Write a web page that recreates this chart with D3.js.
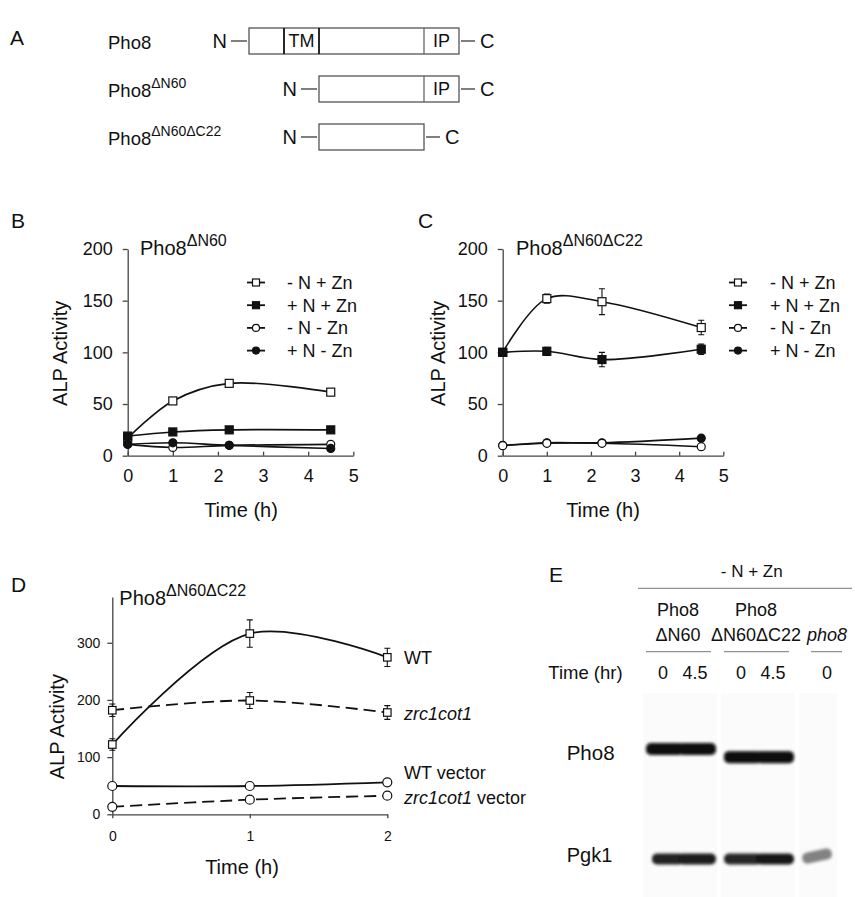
<!DOCTYPE html>
<html>
<head>
<meta charset="utf-8">
<script src="https://cdn.jsdelivr.net/npm/d3@7"></script>
<style>
  body { margin: 0; background: #fff; }
  svg text { font-family: Arial, "Liberation Sans", sans-serif; fill: #111; }
</style>
</head>
<body>
<svg id="fig" width="855" height="897"></svg>
<script>
// ---- panel A: constructs (diagram units, not to scale) ----
const constructNames = ["Pho8", "Pho8", "Pho8"];
const constructSup = ["", "ΔN60", "ΔN60ΔC22"];
const segmentBreaks = [[0, 1, 2, 5, 6], [2, 5, 6], [2, 5]];
const segmentLabels = [["", "TM", "", "IP"], ["", "IP"], [""]];

// ---- panels B and C ----
const timesBC = [0, 1, 2.25, 4.5];
const seriesBC = ["- N + Zn", "+ N + Zn", "- N - Zn", "+ N - Zn"];
const markersBC = ["square-open", "square", "circle-open", "circle"];
const valuesB = [[17, 53, 70, 61.5], [19, 23, 25, 25], [11, 8, 10, 11], [11, 12.5, 10, 7]];
const errorsB = [[0, 0, 0, 0], [0, 0, 0, 0], [0, 0, 0, 0], [0, 0, 0, 0]];
const valuesC = [[100, 152, 149, 124], [100, 101, 93, 103], [9.7, 12, 12, 8.7], [10, 12.5, 12.5, 17]];
const errorsC = [[3, 4.5, 12.5, 7], [3, 4, 7, 5], [0, 0, 0, 0], [0, 0, 0, 0]];
const xTicksBC = [0, 1, 2, 3, 4, 5];
const yTicksBC = [0, 50, 100, 150, 200];

// ---- panel D ----
const timesD = [0, 1, 2];
const seriesD = ["WT", "zrc1cot1", "WT vector", "zrc1cot1 vector"];
const markersD = ["square-open", "square-open", "circle-open", "circle-open"];
const dashedD = [false, true, false, true];
const valuesD = [[122, 316, 274.5], [182, 199, 178], [49.5, 49.5, 56], [13, 25.5, 32.5]];
const errorsD = [[10, 24, 16], [11, 14, 12], [0, 0, 0], [0, 0, 0]];
const xTicksD = [0, 1, 2];
const yTicksD = [0, 100, 200, 300];

// ---- panel E: western blot ----
const blotTop = ["Pho8", "Pho8", ""];
const blotBottom = ["ΔN60", "ΔN60ΔC22", "pho8"];
const laneTimes = ["0", "4.5", "0", "4.5", "0"];
const laneGroup = [0, 0, 1, 1, 2];
const pho8KDa = [56, 56, 55.1, 55.1, 55.1];
const pho8Signal = [1, 1, 1, 1, 0];
const pgk1KDa = [45, 45, 45, 45, 45.3];
const pgk1Signal = [0.9, 0.92, 0.88, 0.95, 0.5];

const svg = d3.select('#fig');
const ink = '#111';
const intFmt = d3.format('d');

function panelLetter(x, y, t) {
  svg.append('text').attr('x', x).attr('y', y).style('font-size', '21px').text(t);
}

function supText(g, x, y, base, sup, size, supSize, raise) {
  const t = g.append('text').attr('x', x).attr('y', y).style('font-size', size + 'px');
  t.append('tspan').text(base);
  if (sup) t.append('tspan').attr('dy', -raise).style('font-size', supSize + 'px').text(sup);
  return t;
}

function marker(g, type, cx, cy, s) {
  const open = type.endsWith('open');
  let m;
  if (type.startsWith('square')) {
    m = g.append('rect').attr('x', cx - s / 2).attr('y', cy - s / 2).attr('width', s).attr('height', s);
  } else {
    m = g.append('circle').attr('cx', cx).attr('cy', cy).attr('r', s / 2);
  }
  m.attr('fill', open ? '#fff' : ink).attr('stroke', ink).attr('stroke-width', 1.2);
}

function styleAxis(a, size) {
  a.style('font-size', size + 'px');
  a.selectAll('path, line').attr('stroke', '#444').attr('stroke-width', 1.3);
}

// ---------------- A ----------------
panelLetter(10, 45, 'A');
const gA = svg.append('g');
const xA = d3.scaleLinear().domain([0, 6]).range([249, 459]);
const yA = d3.scaleLinear().domain([0, 1]).range([28, 76]);
const boxH = 26;

constructNames.forEach((name, i) => {
  const top = yA(i), mid = top + boxH / 2;
  const br = segmentBreaks[i];
  const x0 = xA(br[0]), x1 = xA(br[br.length - 1]);
  supText(gA, 108, mid + 8, name, constructSup[i], 18.5, 14, 9);
  gA.append('text').attr('x', x0 - 22).attr('y', mid).attr('dy', '0.36em')
    .attr('text-anchor', 'end').style('font-size', '20px').text('N');
  gA.append('line').attr('x1', x0 - 18).attr('x2', x0 - 2).attr('y1', mid).attr('y2', mid)
    .attr('stroke', '#555').attr('stroke-width', 1.5);
  gA.append('rect').attr('x', x0).attr('y', top).attr('width', x1 - x0).attr('height', boxH)
    .attr('fill', 'none').attr('stroke', '#555').attr('stroke-width', 1.3);
  // dividers and domain names
  br.slice(1, -1).forEach((b, j) => {
    const dark = segmentLabels[i][j] === 'TM' || segmentLabels[i][j + 1] === 'TM';
    gA.append('line').attr('x1', xA(b)).attr('x2', xA(b)).attr('y1', top).attr('y2', top + boxH)
      .attr('stroke', dark ? '#111' : '#666').attr('stroke-width', dark ? 1.8 : 1.3);
  });
  segmentLabels[i].forEach((s, j) => {
    if (!s) return;
    gA.append('text').attr('x', (xA(br[j]) + xA(br[j + 1])) / 2).attr('y', mid).attr('dy', '0.36em')
      .attr('text-anchor', 'middle').style('font-size', '18px').text(s);
  });
  gA.append('line').attr('x1', x1 + 2).attr('x2', x1 + 16).attr('y1', mid).attr('y2', mid)
    .attr('stroke', '#555').attr('stroke-width', 1.5);
  gA.append('text').attr('x', x1 + 21).attr('y', mid).attr('dy', '0.36em')
    .style('font-size', '20px').text('C');
});

// ---------------- B and C ----------------
function timePanel(o) {
  const g = svg.append('g');
  const x = d3.scaleLinear().domain([0, 5]).range([o.x0, o.x1]);
  const y = d3.scaleLinear().domain([0, 200]).range([455.7, 249]);

  styleAxis(g.append('g').attr('transform', `translate(0,${y(0)})`)
    .call(d3.axisBottom(x).tickValues(xTicksBC).tickFormat(intFmt)
      .tickSize(-4).tickSizeOuter(0).tickPadding(14)), 18);
  styleAxis(g.append('g').attr('transform', `translate(${x(0)},0)`)
    .call(d3.axisLeft(y).tickValues(yTicksBC).tickFormat(intFmt)
      .tickSize(5).tickSizeOuter(0).tickPadding(10)), 18);

  g.append('text').attr('transform', `translate(${o.ylx},${(y(0) + y(200)) / 2 + 1}) rotate(-90)`)
    .attr('text-anchor', 'middle').attr('dy', '0.35em').style('font-size', '20px').text('ALP Activity');
  g.append('text').attr('x', o.tlx).attr('y', 510).attr('dy', '0.35em')
    .attr('text-anchor', 'middle').style('font-size', '20px').text('Time (h)');
  supText(g, o.titleX, 255, 'Pho8', o.sup, 20, 16, 9);

  const line = d3.line().x((d, i) => x(timesBC[i])).y(d => y(d))
    .curve(d3.curveCatmullRom.alpha(0.5));

  o.order.forEach(k => {
    g.append('path').datum(o.values[k]).attr('d', line)
      .attr('fill', 'none').attr('stroke', ink).attr('stroke-width', 1.6);
  });
  o.order.forEach(k => {
    o.values[k].forEach((v, i) => {
      const e = o.errors[k][i];
      if (e > 0) {
        const cx = x(timesBC[i]);
        g.append('path')
          .attr('d', `M${cx},${y(v - e)}V${y(v + e)}M${cx - 3},${y(v - e)}h6M${cx - 3},${y(v + e)}h6`)
          .attr('stroke', ink).attr('stroke-width', 1.1).attr('fill', 'none');
      }
    });
  });
  o.order.forEach(k => {
    o.values[k].forEach((v, i) => marker(g, markersBC[k], x(timesBC[i]), y(v), 8));
  });

  seriesBC.forEach((s, i) => {
    const ly = 282.5 + i * 22.7;
    g.append('line').attr('x1', o.lx - 9).attr('x2', o.lx + 9).attr('y1', ly).attr('y2', ly)
      .attr('stroke', ink).attr('stroke-width', 1.8);
    marker(g, markersBC[i], o.lx, ly, 7);
    g.append('text').attr('x', o.tx).attr('y', ly).attr('dy', '0.35em')
      .style('font-size', '18px').text(s);
  });
}

panelLetter(11, 228, 'B');
timePanel({ x0: 127.7, x1: 353.3, ylx: 60, tlx: 241, titleX: 140, sup: 'ΔN60',
  values: valuesB, errors: errorsB, order: [0, 2, 1, 3], lx: 256, tx: 287 });
panelLetter(418, 228, 'C');
timePanel({ x0: 502.7, x1: 723.3, ylx: 438, tlx: 603, titleX: 516, sup: 'ΔN60ΔC22',
  values: valuesC, errors: errorsC, order: [0, 1, 3, 2], lx: 738, tx: 770 });

// ---------------- D ----------------
panelLetter(11, 591.7, 'D');
const gD = svg.append('g');
const xD = d3.scaleLinear().domain([0, 2]).range([112.3, 387.3]);
const yD = d3.scaleLinear().domain([0, 380]).range([814.3, 597]);

styleAxis(gD.append('g').attr('transform', `translate(0,${yD(0)})`)
  .call(d3.axisBottom(xD).tickValues(xTicksD).tickFormat(intFmt)
    .tickSize(4).tickSizeOuter(0).tickPadding(13)), 14);
styleAxis(gD.append('g').attr('transform', `translate(${xD(0)},0)`)
  .call(d3.axisLeft(yD).tickValues(yTicksD).tickFormat(intFmt)
    .tickSize(5).tickSizeOuter(0).tickPadding(7)), 14);

gD.append('text').attr('transform', `translate(56.7,726.7) rotate(-90)`)
  .attr('text-anchor', 'middle').attr('dy', '0.35em').style('font-size', '20px').text('ALP Activity');
gD.append('text').attr('x', 242).attr('y', 866.7).attr('dy', '0.35em')
  .attr('text-anchor', 'middle').style('font-size', '20px').text('Time (h)');
supText(gD, 119.3, 605, 'Pho8', 'ΔN60ΔC22', 20, 16, 9);

const lineD = d3.line().x((d, i) => xD(timesD[i])).y(d => yD(d))
  .curve(d3.curveCatmullRom.alpha(0.5));

valuesD.forEach((vals, k) => {
  gD.append('path').datum(vals).attr('d', lineD).attr('fill', 'none')
    .attr('stroke', ink).attr('stroke-width', 1.8)
    .attr('stroke-dasharray', dashedD[k] ? '12,6' : null);
});
valuesD.forEach((vals, k) => {
  vals.forEach((v, i) => {
    const e = errorsD[k][i];
    if (e > 0) {
      const cx = xD(timesD[i]);
      gD.append('path')
        .attr('d', `M${cx},${yD(v - e)}V${yD(v + e)}M${cx - 3},${yD(v - e)}h6M${cx - 3},${yD(v + e)}h6`)
        .attr('stroke', ink).attr('stroke-width', 1.1).attr('fill', 'none');
    }
  });
});
valuesD.forEach((vals, k) => {
  vals.forEach((v, i) => marker(gD, markersD[k], xD(timesD[i]), yD(v), markersD[k].startsWith('circle') ? 9 : 7.5));
});

const labelNudgeD = [0, 1, -10, 2];
seriesD.forEach((s, k) => {
  const vals = valuesD[k];
  const t = gD.append('text').attr('x', 404).attr('y', yD(vals[vals.length - 1]) + labelNudgeD[k])
    .attr('dy', '0.35em').style('font-size', '18px');
  if (s.startsWith('zrc1cot1')) {
    t.append('tspan').style('font-style', 'italic').text('zrc1cot1');
    if (s.length > 8) t.append('tspan').text(s.slice(8));
  } else {
    t.text(s);
  }
});

// ---------------- E ----------------
panelLetter(549, 581.7, 'E');
const gE = svg.append('g');
gE.append('text').attr('x', 751.7).attr('y', 571).attr('dy', '0.35em')
  .attr('text-anchor', 'middle').style('font-size', '17px').text('- N + Zn');
gE.append('line').attr('x1', 638).attr('x2', 852).attr('y1', 588.3).attr('y2', 588.3)
  .attr('stroke', '#777').attr('stroke-width', 1);

const laneW = 36, groupGap = 6;
const xLane = d3.scaleLinear().domain([0, 1]).range([663, 663 + laneW]);
const laneSlot = laneTimes.map((t, i) => i + laneGroup[i] * groupGap / laneW);
const yBand = d3.scaleLog().domain([56, 45]).range([749, 859]);

const groups = d3.groups(laneTimes.map((t, i) => i), i => laneGroup[i]);
const defs = svg.append('defs');
defs.append('filter').attr('id', 'blur').attr('x', '-20%').attr('y', '-50%').attr('width', '140%').attr('height', '200%')
  .append('feGaussianBlur').attr('stdDeviation', 1.5);

groups.forEach(([g, lanes]) => {
  const gx0 = xLane(laneSlot[lanes[0]]) - laneW / 2;
  const gx1 = xLane(laneSlot[lanes[lanes.length - 1]]) + laneW / 2;
  const cx = (gx0 + gx1) / 2;
  // faint gel background for this strip
  gE.append('rect').attr('x', gx0 - 2).attr('y', 693).attr('width', gx1 - gx0 + 2).attr('height', 204)
    .attr('fill', '#fbfbfb');
  if (blotTop[g]) {
    gE.append('text').attr('x', cx - 3).attr('y', 609.3).attr('dy', '0.35em')
      .attr('text-anchor', 'middle').style('font-size', '18px').text(blotTop[g]);
  }
  gE.append('text').attr('x', g === 2 ? cx + 8 : cx - 3).attr('y', 635).attr('dy', '0.35em')
    .attr('text-anchor', 'middle').style('font-size', '18px')
    .style('font-style', g === 2 ? 'italic' : 'normal').text(blotBottom[g]);
  gE.append('line').attr('x1', g === 2 ? gx0 + 10 : gx0 + 1).attr('x2', g === 2 ? gx1 + 5 : gx1 - 6)
    .attr('y1', 651.7).attr('y2', 651.7).attr('stroke', '#777').attr('stroke-width', 1);
});

gE.append('text').attr('x', 548.3).attr('y', 672.7).attr('dy', '0.35em')
  .style('font-size', '18.5px').text('Time (hr)');
laneTimes.forEach((t, i) => {
  gE.append('text').attr('x', xLane(laneSlot[i]) - (i % 2 === 1 ? 4 : 0) + (i === 4 ? 8 : 0))
    .attr('y', 672.7).attr('dy', '0.35em')
    .attr('text-anchor', 'middle').style('font-size', '18px').text(t);
});

const bandInk = d3.interpolateRgb('#fbfbfb', '#080808');
const bands = gE.append('g').attr('filter', 'url(#blur)');
laneTimes.forEach((t, i) => {
  const lx = xLane(laneSlot[i]);
  const first = i === 0 || laneGroup[i - 1] !== laneGroup[i];
  const last = i === laneTimes.length - 1 || laneGroup[i + 1] !== laneGroup[i];
  // bands of one strip overlap so they read as one continuous band
  const bx0 = lx - laneW / 2 + (first ? 1 : -3);
  const bx1 = lx + laneW / 2 + (last ? -1 : 3);
  if (pho8Signal[i] > 0) {
    bands.append('rect').attr('x', bx0).attr('y', yBand(pho8KDa[i]) - 6)
      .attr('width', bx1 - bx0).attr('height', 12).attr('rx', first || last ? 5 : 0)
      .attr('fill', bandInk(pho8Signal[i]));
  }
  if (pgk1Signal[i] > 0) {
    const py = yBand(pgk1KDa[i]);
    const px0 = bx0 + (i === 0 ? 6 : 0);
    const px1 = bx1 - (i === 4 ? 4 : 0);
    bands.append('rect').attr('x', px0).attr('y', py - 5.5)
      .attr('width', px1 - px0).attr('height', 11).attr('rx', first || last ? 5 : 0)
      .attr('fill', bandInk(pgk1Signal[i]))
      .attr('transform', i === 4 ? `rotate(-12,${lx},${py})` : null);
  }
});

gE.append('text').attr('x', 566.7).attr('y', 753.3).attr('dy', '0.35em')
  .style('font-size', '20.5px').text('Pho8');
gE.append('text').attr('x', 566.7).attr('y', 855).attr('dy', '0.35em')
  .style('font-size', '20px').text('Pgk1');
</script>
</body>
</html>
